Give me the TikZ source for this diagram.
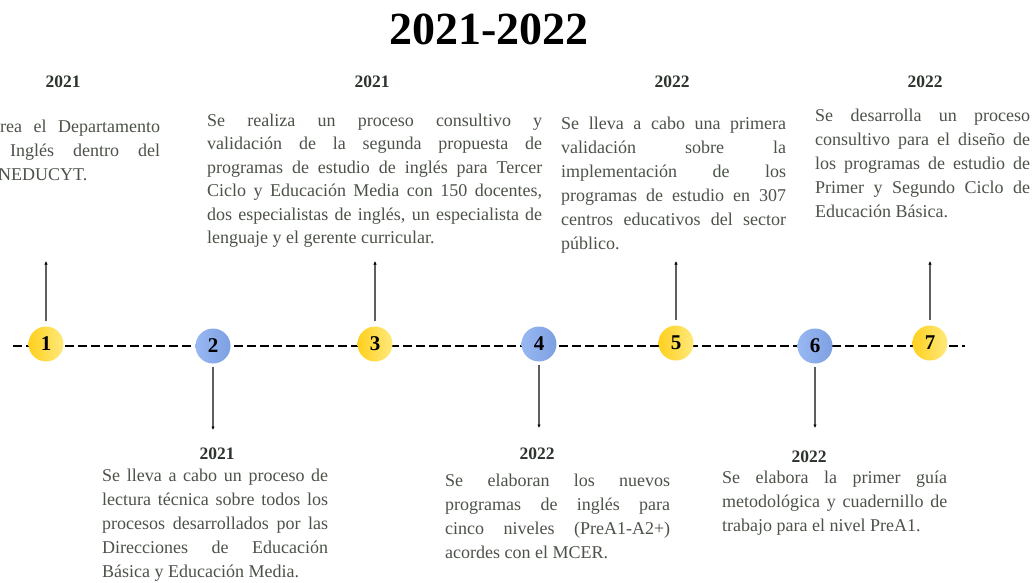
\documentclass[tikz,border=0pt]{standalone}
\usepackage{fontspec}
\setmainfont{Liberation Serif}
\usetikzlibrary{arrows.meta}
\definecolor{txt}{RGB}{75,82,72}
\definecolor{yr}{RGB}{45,52,45}
\definecolor{ylA}{RGB}{255,208,30}
\definecolor{ylB}{RGB}{255,233,125}
\definecolor{blA}{RGB}{152,184,242}
\definecolor{blB}{RGB}{125,160,226}
\definecolor{conncol}{RGB}{95,95,95}
\newcommand{\jl}[2]{\makebox[#1pt][s]{#2}}
\begin{document}
\begin{tikzpicture}[x=1pt,y=-1pt,
  dot/.style={circle,minimum size=35pt,inner sep=0pt,font=\fontsize{21}{21}\selectfont\bfseries},
  ydot/.style={dot,left color=ylA,right color=ylB},
  bdot/.style={dot,left color=blA,right color=blB},
  year/.style={font=\fontsize{17.5}{20}\selectfont\bfseries,text=yr,anchor=base,inner sep=0pt},
  ln/.style={font=\fontsize{18}{20}\selectfont,text=txt,anchor=base west,inner sep=0pt},
  conn/.style={draw=conncol,line width=1.2pt,-{Latex[length=3.5pt,width=3.5pt,color=black]}},
  tl/.style={line width=1.6pt,dash pattern=on 9pt off 4pt},
]
\useasboundingbox (0,0) rectangle (1034,582);

\node[font=\fontsize{46}{46}\selectfont\bfseries,anchor=base,inner sep=0pt] (title) at (489,44) {2021-2022};

% timeline
\coordinate (ls) at (13,346);
\coordinate (le) at (965,346);
\draw[tl] (ls) -- (le);

\node[ydot] (c1) at (46,344) {1};
\node[bdot] (c2) at (213,346) {2};
\node[ydot] (c3) at (375,344) {3};
\node[bdot] (c4) at (539,344) {4};
\node[ydot] (c5) at (676,343) {5};
\node[bdot] (c6) at (815,346) {6};
\node[ydot] (c7) at (930,343) {7};

% connectors
\coordinate (e1) at (46,261);
\coordinate (e2) at (213,430);
\coordinate (e3) at (375,261);
\coordinate (e4) at (539,428);
\coordinate (e5) at (676,261);
\coordinate (e6) at (815,428);
\coordinate (e7) at (930,261);
\foreach \i in {1,3,5,7} \draw[conn,shorten <=5pt] (c\i) -- (e\i);
\foreach \i in {2,4,6} \draw[conn,shorten <=3pt] (c\i) -- (e\i);

% years
\node[year] (y1) at (63,87) {2021};
\node[year] (y3) at (372,87) {2021};
\node[year] (y5) at (672,87) {2022};
\node[year] (y7) at (925,87) {2022};
\node[year] (y2) at (217,459) {2021};
\node[year] (y4) at (537,459) {2022};
\node[year] (y6) at (809,462) {2022};

% block 1
\node[ln] (b1a) at (0,132) {\jl{160}{rea el Departamento}};
\node[ln] (b1b) at (10,156) {\jl{150}{Inglés dentro del}};
\node[ln] (b1c) at (-2,180) {NEDUCYT.};

% block 3
\node[ln] (b3a) at (207,126) {\jl{335}{Se realiza un proceso consultivo y}};
\node[ln] (b3b) at (207,149.5) {\jl{335}{validación de la segunda propuesta de}};
\node[ln] (b3c) at (207,173) {\jl{335}{programas de estudio de inglés para Tercer}};
\node[ln] (b3d) at (207,196.5) {\jl{335}{Ciclo y Educación Media con 150 docentes,}};
\node[ln] (b3e) at (207,220) {\jl{335}{dos especialistas de inglés, un especialista de}};
\node[ln] (b3f) at (207,243.5) {lenguaje y el gerente curricular.};

% block 5
\node[ln] (b5a) at (561,129) {\jl{225}{Se lleva a cabo una primera}};
\node[ln] (b5b) at (561,153) {\jl{225}{validación sobre la}};
\node[ln] (b5c) at (561,177) {\jl{225}{implementación de los}};
\node[ln] (b5d) at (561,201) {\jl{225}{programas de estudio en 307}};
\node[ln] (b5e) at (561,225) {\jl{225}{centros educativos del sector}};
\node[ln] (b5f) at (561,249) {público.};

% block 7
\node[ln] (b7a) at (815,121) {\jl{215}{Se desarrolla un proceso}};
\node[ln] (b7b) at (815,145) {\jl{215}{consultivo para el diseño de}};
\node[ln] (b7c) at (815,169) {\jl{215}{los programas de estudio de}};
\node[ln] (b7d) at (815,193) {\jl{215}{Primer y Segundo Ciclo de}};
\node[ln] (b7e) at (815,217) {Educación Básica.};

% block 2
\node[ln] (b2a) at (102,481) {\jl{226}{Se lleva a cabo un proceso de}};
\node[ln] (b2b) at (102,505) {\jl{226}{lectura técnica sobre todos los}};
\node[ln] (b2c) at (102,529) {\jl{226}{procesos desarrollados por las}};
\node[ln] (b2d) at (102,553) {\jl{226}{Direcciones de Educación}};
\node[ln] (b2e) at (102,577) {Básica y Educación Media.};

% block 4
\node[ln] (b4a) at (445,486) {\jl{225}{Se elaboran los nuevos}};
\node[ln] (b4b) at (445,510) {\jl{225}{programas de inglés para}};
\node[ln] (b4c) at (445,534) {\jl{225}{cinco niveles (PreA1-A2+)}};
\node[ln] (b4d) at (445,558) {acordes con el MCER.};

% block 6
\node[ln] (b6a) at (722,483) {\jl{225}{Se elabora la primer guía}};
\node[ln] (b6b) at (722,507) {\jl{225}{metodológica y cuadernillo de}};
\node[ln] (b6c) at (722,531) {trabajo para el nivel PreA1.};
\end{tikzpicture}
\end{document}
